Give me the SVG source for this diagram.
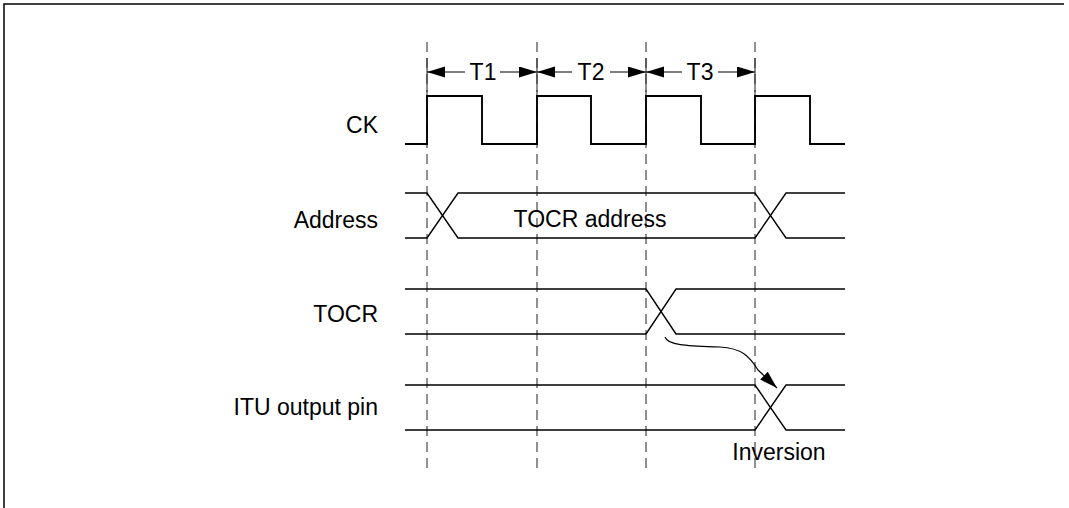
<svg xmlns="http://www.w3.org/2000/svg" width="1069" height="508" viewBox="0 0 1069 508">
<style>
.lbl{font-family:"Liberation Sans",Arial,sans-serif;font-size:23px;fill:#000}
.sig{fill:none;stroke:#000;stroke-width:1.4}
.ck{stroke-width:1.9}
.dash{fill:none;stroke:#333;stroke-width:1.1;stroke-dasharray:10 6}
.tick{stroke:#333;stroke-width:1.1}
.arr{fill:none;stroke:#000;stroke-width:1.2}
</style>
<defs>
<marker id="ah" markerUnits="userSpaceOnUse" markerWidth="20" markerHeight="12" refX="18" refY="5.5" orient="auto-start-reverse">
<path d="M0,0 L18,5.5 L0,11 z" fill="#000"/>
</marker>
</defs>
<rect width="1069" height="508" fill="#fff"/>
<path d="M4,508 V4 H1064" fill="none" stroke="#000" stroke-width="1.5"/>

<g id="guides">
<line class="dash" x1="427" y1="42" x2="427" y2="468"/>
<line class="dash" x1="537" y1="42" x2="537" y2="468"/>
<line class="dash" x1="646" y1="42" x2="646" y2="468"/>
<line class="dash" x1="755" y1="42" x2="755" y2="468"/>
<line class="tick" x1="427" y1="58" x2="427" y2="92"/>
<line class="tick" x1="537" y1="58" x2="537" y2="92"/>
<line class="tick" x1="646" y1="58" x2="646" y2="92"/>
<line class="tick" x1="755" y1="58" x2="755" y2="92"/>
</g>

<g id="periods">
<line class="arr" x1="427" y1="72" x2="465" y2="72" marker-start="url(#ah)"/>
<line class="arr" x1="500" y1="72" x2="537" y2="72" marker-end="url(#ah)"/>
<text class="lbl" x="483" y="80" text-anchor="middle">T1</text>
<line class="arr" x1="537" y1="72" x2="572" y2="72" marker-start="url(#ah)"/>
<line class="arr" x1="610" y1="72" x2="646" y2="72" marker-end="url(#ah)"/>
<text class="lbl" x="591" y="80" text-anchor="middle">T2</text>
<line class="arr" x1="646" y1="72" x2="682" y2="72" marker-start="url(#ah)"/>
<line class="arr" x1="718" y1="72" x2="755" y2="72" marker-end="url(#ah)"/>
<text class="lbl" x="700" y="80" text-anchor="middle">T3</text>
</g>

<g id="ck">
<text class="lbl" x="378" y="133" text-anchor="end">CK</text>
<path class="sig ck" d="M405,144 H427 V96 H482 V144 H537 V96 H591 V144 H646 V96 H701 V144 H755 V96 H810 V144 H845"/>
</g>

<g id="address">
<text class="lbl" x="378" y="228" text-anchor="end">Address</text>
<path class="sig" d="M405,193 H427 L458,238 H755 L786,193 H845"/>
<path class="sig" d="M405,238 H427 L458,193 H755 L786,238 H845"/>
<text class="lbl" x="590" y="227" text-anchor="middle">TOCR address</text>
</g>

<g id="tocr">
<text class="lbl" x="378" y="322" text-anchor="end">TOCR</text>
<path class="sig" d="M405,289 H646 L676,334 H845"/>
<path class="sig" d="M405,334 H646 L676,289 H845"/>
</g>

<g id="itu">
<text class="lbl" x="378" y="415" text-anchor="end">ITU output pin</text>
<path class="sig" d="M405,385 H755 L786,430 H845"/>
<path class="sig" d="M405,430 H755 L786,385 H845"/>
<text class="lbl" x="779" y="460" text-anchor="middle">Inversion</text>
</g>

<g id="connectors">
<path class="arr" d="M665,337 C668,346 690,346 720,347 C742,348 750,357 758,370 L777,388" marker-end="url(#ah)"/>
</g>
</svg>
